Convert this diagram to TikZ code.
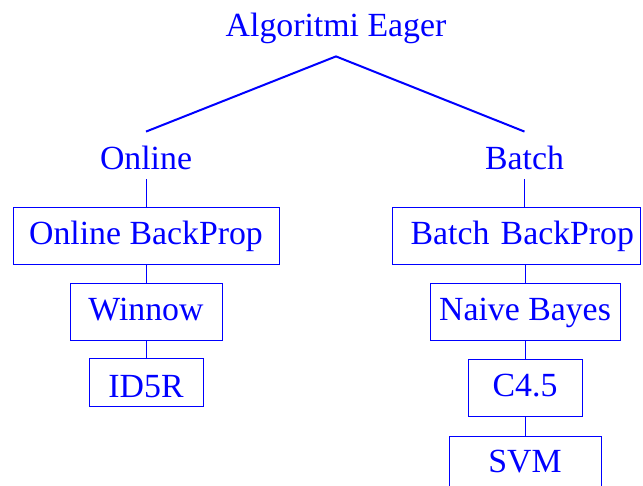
\documentclass[tikz,border=0pt]{standalone}
\usepackage{fontspec}
\setmainfont{Liberation Serif}
\usepackage{tikz}

\begin{document}
\begin{tikzpicture}[x=5pt, y=-5pt,
    every node/.style={font=\fontsize{16.9}{20}\selectfont, text=blue},
    algbox/.style={draw=blue, line width=0.5pt, anchor=base, inner ysep=0pt, text height=18.5pt, text depth=9.75pt},
    group/.style={anchor=base, inner ysep=0pt, text height=19pt, text depth=4.5pt},
    link/.style={blue, line width=0.5pt},
    branch/.style={blue, line width=1pt}]
  \clip (0,0) rectangle (64.3,48.6);
  \node[anchor=base, inner ysep=0pt, text depth=9.5pt] (root) at (33.6,3.7) {Algoritmi Eager};
  \node[group] (online) at (14.6,17.0) {Online};
  \node[group] (batch) at (52.45,17.0) {Batch};
  % colonna online
  \node[algbox, minimum width=133pt] (obp) at (14.6,24.5) {Online BackProp};
  \node[algbox, minimum width=76pt] (winnow) at (14.6,32.1) {Winnow};
  \node[algbox, minimum width=57pt, text height=19.5pt, text depth=4.5pt] (idr) at (14.6,39.8) {ID5R};
  % colonna batch
  \node[algbox, text width=118pt, align=right, inner xsep=3pt] (bbp) at (51.6,24.5) {Batch BackProp};
  \node[algbox, minimum width=95pt] (nbayes) at (52.5,32.1) {Naive Bayes};
  \node[algbox, minimum width=57pt] (cfour) at (52.5,39.7) {C4.5};
  \node[algbox, minimum width=76pt] (svm) at (52.5,47.3) {SVM};
  \draw[branch] (online.north) -- (root.south) -- (batch.north);
  \draw[link] (online.south) -- (obp.north);
  \draw[link] (obp.south) -- (winnow.north);
  \draw[link] (winnow.south) -- (idr.north);
  \draw[link] (batch.south) -- (batch.south |- bbp.north);
  \draw[link] (nbayes.north |- bbp.south) -- (nbayes.north);
  \draw[link] (nbayes.south) -- (cfour.north);
  \draw[link] (cfour.south) -- (svm.north);
\end{tikzpicture}
\end{document}
